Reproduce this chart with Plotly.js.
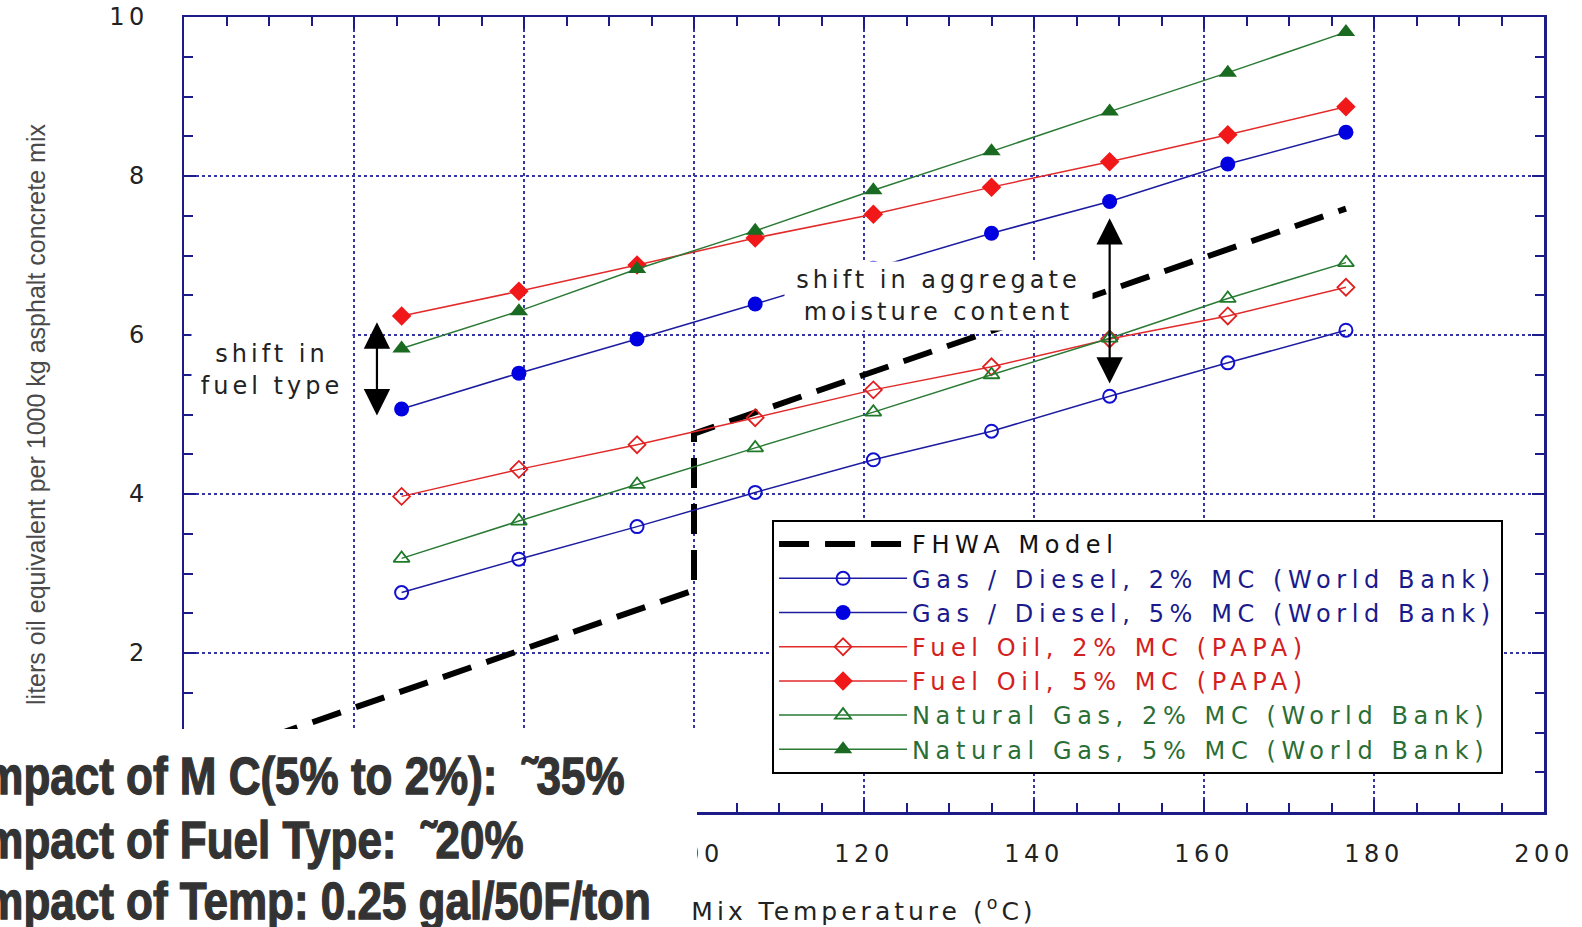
<!DOCTYPE html>
<html><head><meta charset="utf-8">
<script src="https://cdn.plot.ly/plotly-3.0.1.min.js"></script>
<style>
html,body{margin:0;padding:0;background:#fff;}
#chart{width:1582px;height:927px;}
.legendtext{letter-spacing:5.6px;}
.xtick text,.ytick text{letter-spacing:4.5px;}
.xtitle{letter-spacing:4px;}
.annotation[data-index="4"] .annotation-text,
.annotation[data-index="5"] .annotation-text,
.annotation[data-index="6"] .annotation-text{
  transform-box: fill-box; transform-origin: 0 50%; transform: scaleY(1.18);
  stroke: #333; stroke-width: 1.1px;
}
</style></head><body><div id="chart"></div>
<script>
// Mix temperature (deg C) of the computed points
const tempC = [65.6, 79.4, 93.3, 107.2, 121.1, 135.0, 148.9, 162.8, 176.7];
const gasDiesel2 = [2.76, 3.18, 3.59, 4.02, 4.43, 4.79, 5.23, 5.65, 6.06];
const gasDiesel5 = [5.07, 5.52, 5.95, 6.39, 6.84, 7.28, 7.68, 8.15, 8.55];
const fuelOil2   = [3.97, 4.31, 4.62, 4.96, 5.31, 5.60, 5.95, 6.24, 6.60];
const fuelOil5   = [6.24, 6.55, 6.88, 7.22, 7.52, 7.86, 8.18, 8.52, 8.87];
const natGas2    = [3.19, 3.66, 4.12, 4.58, 5.03, 5.50, 5.96, 6.46, 6.91];
const natGas5    = [5.83, 6.30, 6.83, 7.31, 7.82, 8.31, 8.81, 9.30, 9.81];
// FHWA model (step at 100 C)
const fhwaX = [50, 100, 100, 176.7];
const fhwaY = [0.94, 2.79, 4.76, 7.59];

// tick labels (the ones hidden under the note panel are left blank)
const xTickVals = [40, 60, 80, 100, 120, 140, 160, 180, 200];
const xTickText = ['', '', '', '100', '120', '140', '160', '180', '200'];
const yTickVals = [0, 2, 4, 6, 8, 10];
const yTickText = ['', '2', '4', '6', '8', '10'];

const seriesNames = [
  'FHWA Model',
  'Gas / Diesel, 2% MC (World Bank)',
  'Gas / Diesel, 5% MC (World Bank)',
  'Fuel Oil, 2% MC (PAPA)',
  'Fuel Oil, 5% MC (PAPA)',
  'Natural Gas, 2% MC (World Bank)',
  'Natural Gas, 5% MC (World Bank)'
];
const xTitle = 'Mix Temperature (<sup>o</sup>C)';
const yTitle = 'liters oil equivalent per 1000 kg asphalt concrete mix';
const noteLines = [
  'Impact of M C(5% to 2%):  \u02DC35%',
  'Impact of Fuel Type:  \u02DC20%',
  'Impact of Temp: 0.25 gal/50F/ton'
];
const fuelNote = 'shift in<br>fuel type';
const mcNote = 'shift in aggregate<br>moisture content';

const BLUE_T = '#1a1a8c', RED_T = '#d42020', GREEN_T = '#2a6e35';
function lbl(name, c){ return '<span style="color:' + c + '">' + name + '</span>'; }

const traces = [
  {x: fhwaX, y: fhwaY, name: lbl(seriesNames[0], '#111'), mode: 'lines',
   line: {color: '#000', width: 6, dash: '30px,16px'}},
  {x: tempC, y: gasDiesel2, name: lbl(seriesNames[1], BLUE_T), mode: 'lines+markers',
   line: {color: '#1c1ca0', width: 1.5},
   marker: {symbol: 'circle-open', size: 13, color: '#1010d0', line: {width: 2, color: '#1010d0'}}},
  {x: tempC, y: gasDiesel5, name: lbl(seriesNames[2], BLUE_T), mode: 'lines+markers',
   line: {color: '#1c1ca0', width: 1.5},
   marker: {symbol: 'circle', size: 15, color: '#0000e0'}},
  {x: tempC, y: fuelOil2, name: lbl(seriesNames[3], RED_T), mode: 'lines+markers',
   line: {color: '#e22a2a', width: 1.5},
   marker: {symbol: 'diamond-open', size: 13, color: '#e02020', line: {width: 1.8, color: '#e02020'}}},
  {x: tempC, y: fuelOil5, name: lbl(seriesNames[4], RED_T), mode: 'lines+markers',
   line: {color: '#e22a2a', width: 1.5},
   marker: {symbol: 'diamond', size: 15, color: '#f01818'}},
  {x: tempC, y: natGas2, name: lbl(seriesNames[5], GREEN_T), mode: 'lines+markers',
   line: {color: '#2a7a35', width: 1.5},
   marker: {symbol: 'triangle-up-open', size: 14, color: '#1f7a2a', line: {width: 1.8, color: '#1f7a2a'}}},
  {x: tempC, y: natGas5, name: lbl(seriesNames[6], GREEN_T), mode: 'lines+markers',
   line: {color: '#2a7a35', width: 1.5},
   marker: {symbol: 'triangle-up', size: 16, color: '#1a6a22'}}
];

const AX = '#1c1c88';
const axisCommon = {
  showline: true, linecolor: AX, linewidth: 2.5, mirror: 'allticks',
  ticks: 'inside', ticklen: 12, tickwidth: 2, tickcolor: AX,
  showgrid: true, gridcolor: '#3535a5', gridwidth: 2, griddash: 'dot',
  zeroline: false, tickfont: {family: 'DejaVu Sans', size: 24, color: '#222'}
};

const NOTE_FONT = {family: 'Liberation Sans, Arial, sans-serif', size: 44, weight: 'bold', color: '#333'};

const layout = {
  width: 1582, height: 927,
  margin: {l: 184, r: 38, t: 17, b: 115},
  paper_bgcolor: '#fff', plot_bgcolor: '#fff',
  font: {family: 'DejaVu Sans', color: '#222'},
  showlegend: true,
  xaxis: Object.assign({}, axisCommon, {
    range: [40, 200], tickmode: 'array', tickvals: xTickVals, ticktext: xTickText,
    ticklabelstandoff: 19,
    minor: {dtick: 5, ticks: 'inside', ticklen: 9, tickwidth: 2, tickcolor: AX, showgrid: false},
    title: {text: xTitle, standoff: 35, font: {family: 'DejaVu Sans', size: 25, color: '#222'}}
  }),
  yaxis: Object.assign({}, axisCommon, {
    range: [0, 10], tickmode: 'array', tickvals: yTickVals, ticktext: yTickText,
    ticklabelstandoff: 28,
    minor: {dtick: 0.5, ticks: 'inside', ticklen: 9, tickwidth: 2, tickcolor: AX, showgrid: false},
    title: {text: yTitle, standoff: 57, font: {family: 'Liberation Sans, Arial, sans-serif', size: 25, color: '#4a4a4a'}}
  }),
  legend: {
    x: 0.4324, y: 0.3673, xanchor: 'left', yanchor: 'top',
    bgcolor: '#fff', bordercolor: '#000', borderwidth: 2,
    font: {family: 'DejaVu Sans', size: 24, color: '#222'},
    itemwidth: 128, traceorder: 'normal', tracegroupgap: 0
  },
  shapes: [
    {type: 'rect', xref: 'paper', yref: 'paper', x0: -0.2, x1: 0.3772, y0: -0.2, y1: 0.1044,
     fillcolor: '#fff', line: {width: 0}, layer: 'above'}
  ],
  annotations: [
    {x: 62.7, y: 6.16, ax: 62.7, ay: 4.97, xref: 'x', yref: 'y', axref: 'x', ayref: 'y',
     text: '', showarrow: true, arrowside: 'end+start', arrowhead: 2, startarrowhead: 2,
     arrowsize: 2.4, startarrowsize: 2.4, arrowwidth: 2.2, arrowcolor: '#000', standoff: 0, startstandoff: 0},
    {x: 148.9, y: 7.47, ax: 148.9, ay: 5.37, xref: 'x', yref: 'y', axref: 'x', ayref: 'y',
     text: '', showarrow: true, arrowside: 'end+start', arrowhead: 2, startarrowhead: 2,
     arrowsize: 2.4, startarrowsize: 2.4, arrowwidth: 2.2, arrowcolor: '#000', standoff: 0, startstandoff: 0},
    {x: 50.4, y: 5.56, xref: 'x', yref: 'y', showarrow: false,
     text: '<span style="letter-spacing:4px">' + fuelNote + '</span>',
     bgcolor: '#fff', width: 160, height: 76, borderpad: 0,
     font: {family: 'DejaVu Sans', size: 24, color: '#222'}},
    {x: 128.76, y: 6.49, xref: 'x', yref: 'y', showarrow: false,
     text: '<span style="letter-spacing:4px">' + mcNote + '</span>',
     bgcolor: '#fff', width: 307, height: 68, borderpad: 0,
     font: {family: 'DejaVu Sans', size: 24, color: '#222'}},
    {x: -0.1574, y: 0.0465, xref: 'paper', yref: 'paper', xanchor: 'left', yanchor: 'middle',
     showarrow: false, text: noteLines[0], font: NOTE_FONT},
    {x: -0.1574, y: -0.0352, xref: 'paper', yref: 'paper', xanchor: 'left', yanchor: 'middle',
     showarrow: false, text: noteLines[1], font: NOTE_FONT},
    {x: -0.1574, y: -0.1119, xref: 'paper', yref: 'paper', xanchor: 'left', yanchor: 'middle',
     showarrow: false, text: noteLines[2], font: NOTE_FONT}
  ]
};

Plotly.newPlot('chart', traces, layout, {displayModeBar: false, staticPlot: true});
</script></body></html>
